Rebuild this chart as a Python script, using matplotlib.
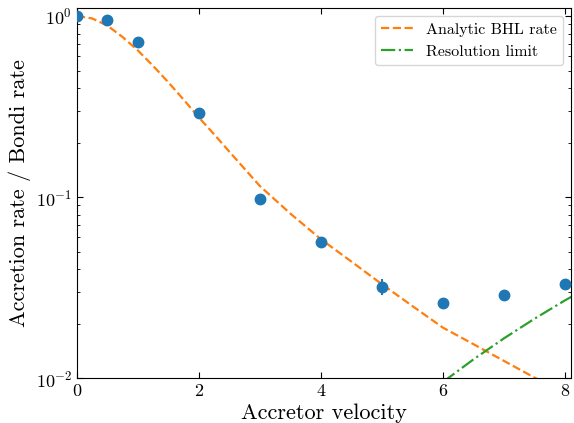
import matplotlib
matplotlib.use("Agg")
import matplotlib.pyplot as plt
import numpy as np

plt.rcParams.update({
    "font.family": "serif",
    "font.serif": ["cmr10"],
    "mathtext.fontset": "cm",
    "axes.formatter.use_mathtext": True,
    "xtick.direction": "in",
    "ytick.direction": "in",
    "xtick.top": True,
    "ytick.right": True,
})

# Measured accretion rates (normalised to Bondi)
velocity = [0, 0.5, 1, 2, 3, 4, 5, 6, 7, 8]
rate = [1.0, 0.95, 0.72, 0.291, 0.097, 0.0567, 0.0319, 0.0259, 0.0289, 0.0330]
rate_err = [0.0, 0.0, 0.0, 0.0, 0.0, 0.0, 0.0032, 0.0, 0.0, 0.0]

# Analytic Bondi-Hoyle-Lyttleton curve
bhl_v = [0, 0.25, 0.5, 0.75, 1.0, 1.25, 1.5, 1.75, 2.0, 2.25, 2.5, 2.75, 3.0,
         3.5, 4.0, 4.5, 5.0, 5.5, 6.0, 6.5, 7.0, 7.5, 8.0, 8.5]
bhl_rate = [1.0, 0.97, 0.885, 0.765, 0.645, 0.53, 0.43, 0.345, 0.275, 0.222,
            0.178, 0.143, 0.115, 0.081, 0.0585, 0.044, 0.0330, 0.025, 0.0190,
            0.0154, 0.01245, 0.01007, 0.0083, 0.0069]

# Resolution limit
res_v = [6.0, 6.5, 7.0, 7.5, 8.0, 8.5]
res_rate = [0.00953, 0.0127, 0.0166, 0.0213, 0.0269, 0.0334]

fig = plt.figure(figsize=(5.74, 4.23), dpi=100)
ax = fig.add_axes([0.134, 0.106, 0.861, 0.875])

ax.errorbar(velocity, rate, yerr=rate_err, fmt="o", color="C0",
            markersize=7.5, elinewidth=1.5, capsize=0, zorder=3)
ax.plot(bhl_v, bhl_rate, "--", color="C1", lw=1.6, label="Analytic BHL rate")
ax.plot(res_v, res_rate, "-.", color="C2", lw=1.6, label="Resolution limit")

ax.set_yscale("log")
ax.set_xlim(0, 8.1)
ax.set_ylim(0.01, 1.107)
ax.set_xticks([0, 2, 4, 6, 8])
ax.tick_params(axis="both", which="major", labelsize=13, length=4)
ax.tick_params(axis="y", which="minor", length=2.5)

ax.set_xlabel("Accretor velocity", fontsize=16, labelpad=3)
ax.set_ylabel("Accretion rate / Bondi rate", fontsize=16, labelpad=3)
ax.legend(loc="upper right", fontsize=11.5)

fig.savefig("out.png", dpi=100)
